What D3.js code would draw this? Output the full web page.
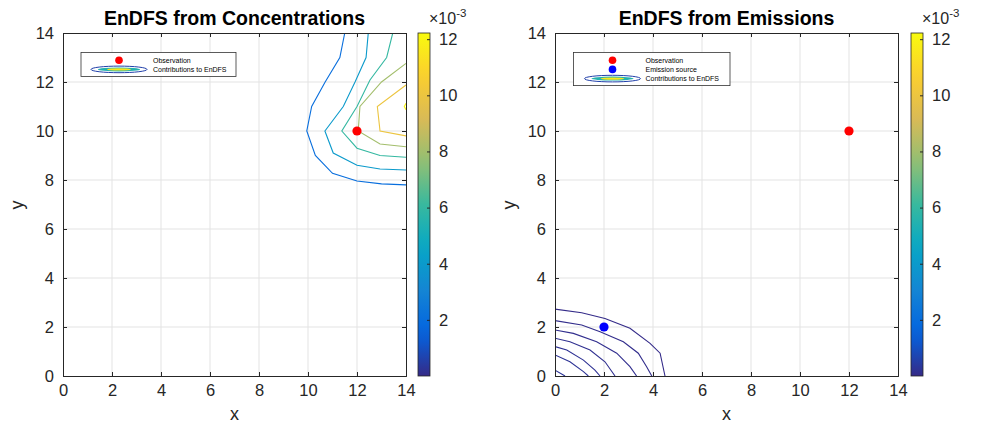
<!DOCTYPE html>
<html>
<head>
<meta charset="utf-8">
<script src="https://cdn.jsdelivr.net/npm/d3@7"></script>
<style>
  body { margin:0; background:#fff; }
  svg { display:block; font-family:"Liberation Sans", Arial, sans-serif; }
</style>
</head>
<body>
<script>
// ---------- data ----------
var axisTicks = [0, 2, 4, 6, 8, 10, 12, 14];
var cbTicks = [2, 4, 6, 8, 10, 12];          // x 10^-3
var cbMax = 12.22;                            // x 10^-3

var leftLevels = [2, 4, 6, 8, 10, 12];
var leftContours = [
  [[11.5,14],[11.3,13],[10.7,12],[10.15,11],[9.95,10],[10.3,9],[11,8.27],[12,7.96],[13,7.84],[14,7.8]],
  [[12.46,14],[12.37,13],[11.92,12],[11.44,11],[10.69,10],[11.03,9.1],[12,8.6],[12.94,8.45],[14,8.41]],
  [[13.46,14],[13.21,13],[12.53,12.08],[12,11],[11.38,10],[12,9.3],[12.94,9],[14,8.93]],
  [[14,12.76],[13,12],[12.12,11],[12.05,10],[12.94,9.47],[14,9.36]],
  [[14,11.88],[12.83,11],[12.94,10],[14,9.8]],
  [[14,11.13],[13.93,11],[14,10.87]]
];

var rightLevels = [0.04, 0.08, 0.12, 0.16, 0.2, 0.24, 0.28];
var rightContours = [
  [[0,2.73],[1.09,2.58],[2.04,2.35],[3.06,1.95],[3.88,1.33],[4.29,0.93],[4.49,0]],
  [[0,2.26],[1.09,2.08],[1.84,1.81],[2.79,1.4],[3.4,0.93],[3.74,0.38],[3.95,0]],
  [[0,1.88],[0.75,1.74],[1.7,1.4],[2.52,0.93],[3.06,0.38],[3.33,0]],
  [[0,1.54],[0.61,1.4],[1.43,1.06],[2.04,0.58],[2.45,0]],
  [[0,1.2],[0.48,1.06],[1.16,0.65],[1.63,0.24],[1.84,0]],
  [[0,0.86],[0.61,0.58],[1.16,0.18],[1.36,0]],
  [[0,0.24],[0.34,0.04],[0.41,0]]
];

var observation = [12, 10];
var emission = [2, 2];

// ---------- parula colormap ----------
var parulaStops = [0, 0.125, 0.25, 0.375, 0.5, 0.625, 0.75, 0.875, 1];
var parulaColors = ['#352a87','#0363e1','#1485d4','#06a7c6','#38b99e','#92bf73','#d9ba56','#fcce2e','#f9fb0e'];
var parula = d3.scaleLinear().domain(parulaStops).range(parulaColors).interpolate(d3.interpolateRgb);
var colorOf = function(v){ return parula(v / cbMax); };

var svg = d3.select(document.body).append('svg').attr('width', 981).attr('height', 427);

var defs = svg.append('defs');
var grad = defs.append('linearGradient').attr('id','parula').attr('x1',0).attr('y1',1).attr('x2',0).attr('y2',0);
d3.range(0, 1.0001, 0.05).forEach(function(t){
  grad.append('stop').attr('offset', t).attr('stop-color', parula(t));
});

var axColor = '#262626';
var font = 'Liberation Sans, Arial, sans-serif';

function panel(opts){
  var x = d3.scaleLinear().domain([0,14]).range([opts.left, opts.right]);
  var y = d3.scaleLinear().domain([0,14]).range([376, 33]);
  var g = svg.append('g');

  defs.append('clipPath').attr('id', opts.id + 'clip')
    .append('rect').attr('x', opts.left).attr('y', 33)
    .attr('width', opts.right - opts.left).attr('height', 343);

  // grid
  g.append('g').selectAll('line').data(axisTicks.slice(1, -1)).enter().append('line')
    .attr('x1', d => x(d)).attr('x2', d => x(d)).attr('y1', 33).attr('y2', 376)
    .attr('stroke', '#e3e3e3');
  g.append('g').selectAll('line').data(axisTicks.slice(1, -1)).enter().append('line')
    .attr('y1', d => y(d)).attr('y2', d => y(d)).attr('x1', opts.left).attr('x2', opts.right)
    .attr('stroke', '#e3e3e3');

  // contours
  var line = d3.line().x(d => x(d[0])).y(d => y(d[1]));
  g.append('g').attr('clip-path', 'url(#' + opts.id + 'clip)')
    .selectAll('path').data(opts.contours).enter().append('path')
    .attr('d', line).attr('fill', 'none').attr('stroke-width', 1.1)
    .attr('stroke', (d, i) => colorOf(opts.levels[i]));

  // axes (ticks inward, box on)
  var ax = g.append('g');
  ax.append('g').attr('transform', 'translate(0,376)')
    .call(d3.axisBottom(x).tickValues(axisTicks).tickSize(-4).tickPadding(8).tickFormat(d3.format('d')));
  ax.append('g').attr('transform', 'translate(0,33)')
    .call(d3.axisTop(x).tickValues(axisTicks).tickSize(-4).tickFormat(''));
  ax.append('g').attr('transform', 'translate(' + opts.left + ',0)')
    .call(d3.axisLeft(y).tickValues(axisTicks).tickSize(-4).tickPadding(9).tickFormat(d3.format('d')));
  ax.append('g').attr('transform', 'translate(' + opts.right + ',0)')
    .call(d3.axisRight(y).tickValues(axisTicks).tickSize(-4).tickFormat(''));
  ax.selectAll('.domain').attr('stroke', axColor);
  ax.selectAll('.tick line').attr('stroke', axColor);
  ax.selectAll('text').attr('fill', axColor).attr('font-size', 16.5).attr('font-family', font);

  // labels
  var cx = (opts.left + opts.right) / 2;
  g.append('text').attr('x', cx).attr('y', 25).attr('text-anchor', 'middle')
    .attr('font-weight', 'bold').attr('font-size', 19.5).attr('fill', '#000').text(opts.title);
  g.append('text').attr('x', cx).attr('y', 420).attr('text-anchor', 'middle')
    .attr('font-size', 18).attr('fill', axColor).text('x');
  g.append('text').attr('transform', 'translate(' + (opts.left - 40) + ',205) rotate(-90)')
    .attr('text-anchor', 'middle').attr('font-size', 18).attr('fill', axColor).text('y');

  // markers
  opts.points.forEach(function(p){
    g.append('circle').attr('cx', x(p.xy[0])).attr('cy', y(p.xy[1])).attr('r', 4.6).attr('fill', p.color);
  });

  // colorbar
  var cb = d3.scaleLinear().domain([0, cbMax]).range([376, 33]);
  var cbg = g.append('g');
  cbg.append('rect').attr('x', opts.cbx).attr('y', 33).attr('width', 12).attr('height', 343)
    .attr('fill', 'url(#parula)').attr('stroke', axColor).attr('stroke-width', 0.8);
  cbg.append('g').attr('transform', 'translate(' + (opts.cbx + 12) + ',0)')
    .call(d3.axisRight(cb).tickValues(cbTicks).tickSize(-3).tickPadding(9).tickFormat(d3.format('d')))
    .call(s => s.select('.domain').remove())
    .call(s => s.selectAll('line').attr('stroke', axColor))
    .call(s => s.selectAll('text').attr('font-size', 16.5).attr('fill', axColor).attr('font-family', font));
  var exp = cbg.append('text').attr('x', opts.cbx + 11).attr('y', 24).attr('font-size', 16).attr('fill', axColor);
  exp.append('tspan').text('\u00d710');
  exp.append('tspan').attr('dy', -7).attr('font-size', 11.5).text('-3');

  // legend
  var lg = g.append('g');
  var lx = opts.legend.x, ly = opts.legend.y;
  lg.append('rect').attr('x', lx).attr('y', ly).attr('width', opts.legend.w)
    .attr('height', opts.legend.items.length * 9.2 + 5.5)
    .attr('fill', '#fff').attr('stroke', '#333').attr('stroke-width', 0.8);
  opts.legend.items.forEach(function(it, i){
    var iy = ly + 7.7 + i * 9.2;
    var ix = lx + opts.legend.iconx;
    if (it.type === 'dot') {
      lg.append('circle').attr('cx', ix).attr('cy', iy).attr('r', 3.8).attr('fill', it.color);
    } else {
      lg.append('ellipse').attr('cx', ix).attr('cy', iy).attr('rx', 28).attr('ry', 3.3)
        .attr('fill', '#fff').attr('stroke', colorOf(0.6)).attr('stroke-width', 1);
      lg.append('ellipse').attr('cx', ix).attr('cy', iy).attr('rx', 21).attr('ry', 2)
        .attr('fill', colorOf(5.5));
      lg.append('ellipse').attr('cx', ix).attr('cy', iy).attr('rx', 12).attr('ry', 1.2)
        .attr('fill', colorOf(11.5));
    }
    lg.append('text').attr('x', lx + opts.legend.textx).attr('y', iy + 2.5)
      .attr('font-size', 7).attr('fill', '#000').text(it.label);
  });
}

panel({
  id: 'L', left: 63, right: 406, cbx: 418,
  title: 'EnDFS from Concentrations',
  contours: leftContours, levels: leftLevels,
  points: [{ xy: observation, color: '#ff0000' }],
  legend: { x: 81, y: 52.5, w: 155, iconx: 38, textx: 72,
    items: [{ type: 'dot', color: '#ff0000', label: 'Observation' },
            { type: 'ell', label: 'Contributions to EnDFS' }] }
});

panel({
  id: 'R', left: 555, right: 898, cbx: 911,
  title: 'EnDFS from Emissions',
  contours: rightContours, levels: rightLevels,
  points: [{ xy: observation, color: '#ff0000' }, { xy: emission, color: '#0000ff' }],
  legend: { x: 573.5, y: 52.5, w: 156.5, iconx: 39, textx: 72,
    items: [{ type: 'dot', color: '#ff0000', label: 'Observation' },
            { type: 'dot', color: '#0000ff', label: 'Emission source' },
            { type: 'ell', label: 'Contributions to EnDFS' }] }
});
</script>
</body>
</html>
